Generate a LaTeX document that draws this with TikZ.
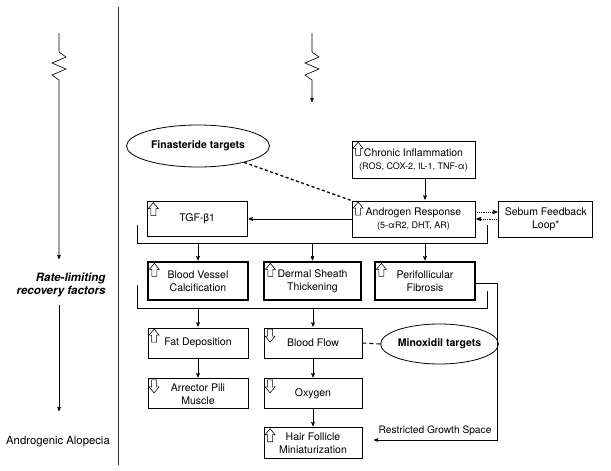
\documentclass[tikz,border=0pt]{standalone}
\usepackage{fontspec}
\setmainfont{TeX Gyre Heros}
\usetikzlibrary{arrows,positioning,shapes.geometric}

\newcommand{\boxfont}{\fontsize{10.5}{13}\selectfont}
\newcommand{\subfont}{\fontsize{9}{11}\selectfont}

\tikzset{
  box/.style={draw,line width=0.8pt,align=center,font=\boxfont,inner sep=1pt,
              minimum width=100pt,minimum height=30pt},
  factor/.style={box,line width=1.3pt,minimum height=38pt},
  target/.style={ellipse,draw,line width=0.8pt,inner sep=0pt,
                 font=\bfseries\boxfont},
  upicon/.pic={\draw[-,shorten >=0pt,line width=0.6pt,fill=white]
      (5,0) -- (10,6) -- (7.5,6) -- (7.5,13) -- (2.5,13) -- (2.5,6) -- (0,6) -- cycle;},
  downicon/.pic={\draw[-,shorten >=0pt,line width=0.6pt,fill=white]
      (2.5,0) -- (7.5,0) -- (7.5,7) -- (10,7) -- (5,13) -- (0,7) -- (2.5,7) -- cycle;}
}

\begin{document}
\begin{tikzpicture}[->,>=stealth',shorten >=1pt,semithick,x=1pt,y=-1pt]
  \useasboundingbox (0,0) rectangle (611,471);

  % left column
  \node[align=right,font=\bfseries\itshape\fontsize{11.5}{13}\selectfont]
        (rate) at (61,284.5) {Rate-limiting\\recovery factors};
  \node[font=\fontsize{11.3}{13}\selectfont] (AGA) at (58,442) {Androgenic Alopecia};
  \coordinate (L0) at (59,33);
  \coordinate (L1) at (59,260);
  \coordinate (L2) at (59,305);
  \coordinate (L3) at (59,412);
  \draw (L0) -- ++(0,19) -- ++(7,5) -- ++(-14,6) -- ++(14,6) -- ++(-14,6) -- ++(7,5) -- (L1);
  \draw (L2) -- (L3);

  \draw[-,shorten >=0pt,line width=1pt,black!80] (118,7) -- (118,465);

  % top of the right column
  \coordinate (R0) at (312,33);
  \coordinate (R1) at (312,103);
  \draw (R0) -- ++(0,19) -- ++(7,5) -- ++(-14,6) -- ++(14,6) -- ++(-14,6) -- ++(7,5) -- (R1);

  \node[target,minimum width=143pt,minimum height=42pt] (Fin) at (198,146) {Finasteride targets};
  \node[box,minimum width=123pt,minimum height=36pt] (Andr) at (413.5,219)
        {Androgen Response\\{\subfont (5-αR2, DHT, AR)}};
  \node[box,minimum width=123pt,minimum height=37pt] (Chronic) [above=22pt of Andr]
        {Chronic Inflammation\\{\subfont (ROS, COX-2, IL-1, TNF-α)}};
  \node[box,minimum width=94pt,minimum height=36pt] (Sebum) [right=23pt of Andr]
        {Sebum Feedback\\Loop*};
  \node[box,minimum height=35pt] (TGF) [left=104pt of Andr] {TGF-β1};

  \node[factor] (BV) at (198,281) {Blood Vessel\\Calcification};
  \node[factor,minimum width=97pt] (Dermal) at (312.5,281) {Dermal Sheath\\Thickening};
  \node[factor] (Perif) at (425,281) {Perifollicular\\Fibrosis};

  \node[box] (Fat) at (198,343) {Fat Deposition};
  \node[box,minimum width=98pt] (BF) at (313,343) {Blood Flow};
  \node[box] (Arrector) [below=20pt of Fat] {Arrector Pili\\Muscle};
  \node[box,minimum width=98pt] (Oxygen) [below=20pt of BF] {Oxygen};
  \node[box,minimum width=98pt,minimum height=31pt] (Hair) [below=18pt of Oxygen]
        {Hair Follicle\\Miniaturization};
  \node[target,minimum width=109pt,minimum height=40pt] (Minox) at (439.5,344) {Minoxidil targets};

  \foreach \n in {Chronic,Andr,TGF,Fat,Hair}
    \pic at ([shift={(1.5,1.5)}]\n.north west) {upicon};
  \foreach \n in {BV,Dermal,Perif}
    \pic at ([shift={(2,2)}]\n.north west) {upicon};
  \foreach \n in {Arrector,BF,Oxygen}
    \pic at ([shift={(1.5,1.5)}]\n.north west) {downicon};

  % brackets
  \coordinate (bus1) at (137,243);
  \coordinate (bus2) at (137,308);
  \draw[-,shorten >=0pt] (137,225) -- (bus1) -- (487,243) -- (487,225);
  \draw[-,shorten >=0pt] (137,285) -- (bus2) -- (487,308) -- (487,291);

  \path (Chronic.south -| Perif.north) edge (Andr.north -| Perif.north)
        (Andr) edge (TGF)
        (BV.north |- bus1) edge (BV.north)
        (Dermal.north |- bus1) edge (Dermal.north)
        (Perif.north |- bus1) edge (Perif.north)
        (Fat.north |- bus2) edge (Fat.north)
        (BF.north |- bus2) edge (BF.north)
        (Fat) edge (Arrector)
        (BF) edge (Oxygen)
        (Oxygen) edge (Hair);

  \draw[densely dotted,line width=0.8pt] ([yshift=7pt]Andr.east) -- ([yshift=7pt]Sebum.west);
  \draw[densely dotted,line width=0.8pt] (Sebum.west) -- (Andr.east);

  \draw[-,shorten >=0pt,dash pattern=on 3pt off 2.5pt,line width=1.3pt] (Fin) -- (Andr.north west);
  \draw[-,shorten >=0pt,dash pattern=on 4pt off 3pt,line width=1pt] (BF.east) -- (Minox.west);

  % restricted growth
  \coordinate (rgs) at (497,440);
  \coordinate (rgsend) at (373,440);
  \draw ([yshift=-2pt]Perif.east) -| (rgs)
        -- node[above=1pt,font=\fontsize{10.2}{12}\selectfont] {Restricted Growth Space} (rgsend);
\end{tikzpicture}
\end{document}
